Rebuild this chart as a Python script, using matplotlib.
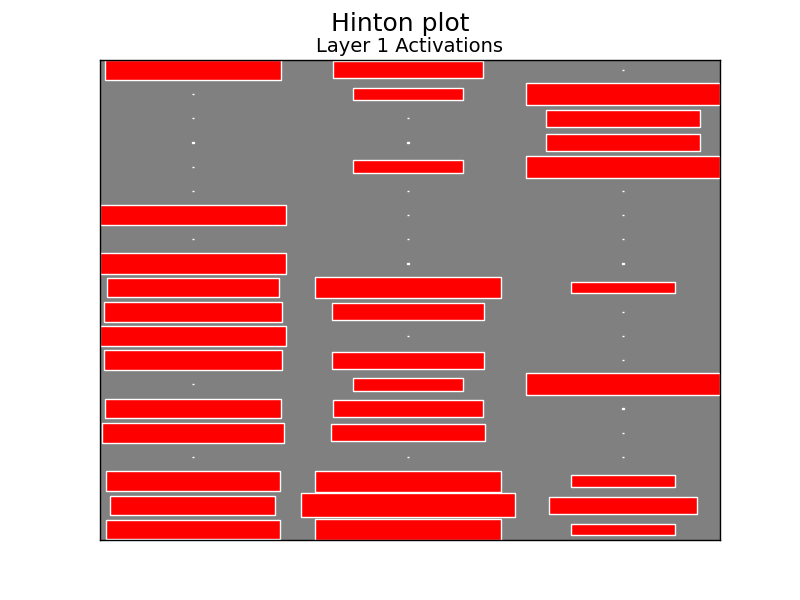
import numpy as np
import matplotlib
matplotlib.use("Agg")
import matplotlib.pyplot as plt
from matplotlib.patches import Rectangle

# Activation values (20 units x 3 samples); magnitude -> square size = sqrt(|w|/max)
col0 = [0.667, 4e-5, 4e-5, 1e-4, 4e-5, 4e-5, 0.748, 4e-5, 0.748, 0.637,
        0.680, 0.748, 0.682, 4e-5, 0.667, 0.709, 4e-5, 0.652, 0.589, 0.652]
col1 = [0.493, 0.266, 4e-5, 1e-4, 0.266, 4e-5, 4e-5, 4e-5, 1e-4, 0.748,
        0.499, 4e-5, 0.499, 0.266, 0.493, 0.519, 4e-5, 0.756, 0.994, 0.756]
col2 = [4e-5, 0.814, 0.519, 0.519, 0.814, 4e-5, 4e-5, 4e-5, 1e-4, 0.238,
        4e-5, 4e-5, 4e-5, 0.814, 1e-4, 4e-5, 4e-5, 0.238, 0.473, 0.238]

suptitle = "Hinton plot"
title = "Layer 1 Activations"

matrix = np.array([col0, col1, col2])  # shape (3, 20): x = column, y = row
max_weight = 2 ** np.ceil(np.log2(np.abs(matrix).max()))

fig = plt.figure(figsize=(8, 6), dpi=100)
ax = fig.add_axes([0.125, 0.1, 0.775, 0.8])
ax.patch.set_facecolor('gray')

for (x, y), w in np.ndenumerate(matrix):
    size = np.sqrt(abs(w) / max_weight)
    rect = Rectangle((x - size / 2, y - size / 2), size, size,
                     facecolor='red', edgecolor='white', linewidth=1)
    ax.add_patch(rect)

ax.margins(0)
ax.autoscale_view()
ax.invert_yaxis()
ax.set_xticks([])
ax.set_yticks([])
for s in ax.spines.values():
    s.set_linewidth(1.0)
    s.set_color('black')

ax.set_title(title, fontsize=14)
fig.suptitle(suptitle, fontsize=18, y=0.98)

fig.savefig("out.png", dpi=100)
